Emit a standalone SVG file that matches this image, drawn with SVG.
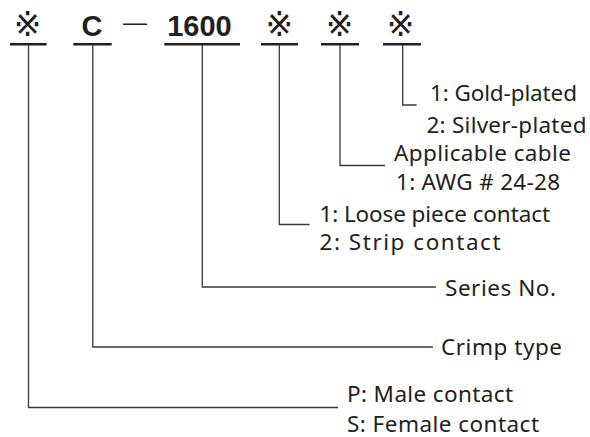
<svg xmlns="http://www.w3.org/2000/svg" width="590" height="437" viewBox="0 0 590 437">
<style>
.lbl{font-family:"Noto Sans","Liberation Sans",Arial,sans-serif;font-size:22.5px;fill:#231f20}
.code{font-family:"Liberation Sans",Arial,sans-serif;font-size:29px;font-weight:bold;fill:#231f20}
.ref{font-family:"DejaVu Sans","Noto Sans CJK JP",sans-serif;font-size:33px;fill:#231f20}
.ul{stroke:#231f20;stroke-width:2.5;fill:none}
.conn path{stroke:#3a3a3a;stroke-width:1.3;fill:none}
</style>
<rect width="590" height="437" fill="#fff"/>
<g id="code">
  <g id="seg1"><text class="ref" x="27.5" y="36" text-anchor="middle">※</text><line class="ul" x1="10" y1="44.3" x2="46.7" y2="44.3"/></g>
  <g id="seg2"><text class="code" x="92" y="36" text-anchor="middle">C</text><line class="ul" x1="73.3" y1="44.3" x2="111.7" y2="44.3"/></g>
  <g id="dash"><text x="123" y="29.5" style="font-family:'Liberation Sans',Arial,sans-serif;font-size:24px;fill:#231f20">—</text></g>
  <g id="seg3"><text class="code" x="199.5" y="36" text-anchor="middle">1600</text><line class="ul" x1="164.3" y1="44.3" x2="240" y2="44.3"/></g>
  <g id="seg4"><text class="ref" x="279.3" y="36" text-anchor="middle">※</text><line class="ul" x1="261" y1="44.3" x2="298" y2="44.3"/></g>
  <g id="seg5"><text class="ref" x="339.5" y="36" text-anchor="middle">※</text><line class="ul" x1="321" y1="44.3" x2="359" y2="44.3"/></g>
  <g id="seg6"><text class="ref" x="400.5" y="36" text-anchor="middle">※</text><line class="ul" x1="383" y1="44.3" x2="421" y2="44.3"/></g>
</g>
<g id="connectors" class="conn">
  <path d="M28.5 45 V407.5 H338"/>
  <path d="M92.8 45 V347 H433"/>
  <path d="M202.3 45 V287 H436"/>
  <path d="M279.3 45 V224.5 H309.5"/>
  <path d="M340 45 V165.5 H385"/>
  <path d="M402.7 45 V105 H416.7"/>
</g>
<g id="plating">
  <text class="lbl" x="430" y="101" textLength="147" lengthAdjust="spacing">1: Gold-plated</text>
  <text class="lbl" x="426.5" y="133" textLength="160" lengthAdjust="spacing">2: Silver-plated</text>
</g>
<g id="cable">
  <text class="lbl" x="394" y="161" textLength="177" lengthAdjust="spacing">Applicable cable</text>
  <text class="lbl" x="396" y="190" textLength="164" lengthAdjust="spacing">1: AWG # 24-28</text>
</g>
<g id="contact-form">
  <text class="lbl" x="319.5" y="222" textLength="230.5" lengthAdjust="spacing">1: Loose piece contact</text>
  <text class="lbl" x="319.5" y="250" textLength="181" lengthAdjust="spacing">2: Strip contact</text>
</g>
<g id="series">
  <text class="lbl" x="445" y="295.5" textLength="111" lengthAdjust="spacing">Series No.</text>
</g>
<g id="crimp">
  <text class="lbl" x="441" y="355" textLength="121" lengthAdjust="spacing">Crimp type</text>
</g>
<g id="gender">
  <text class="lbl" x="347" y="401.7" textLength="166" lengthAdjust="spacing">P: Male contact</text>
  <text class="lbl" x="347" y="431.5" textLength="192" lengthAdjust="spacing">S: Female contact</text>
</g>
</svg>
